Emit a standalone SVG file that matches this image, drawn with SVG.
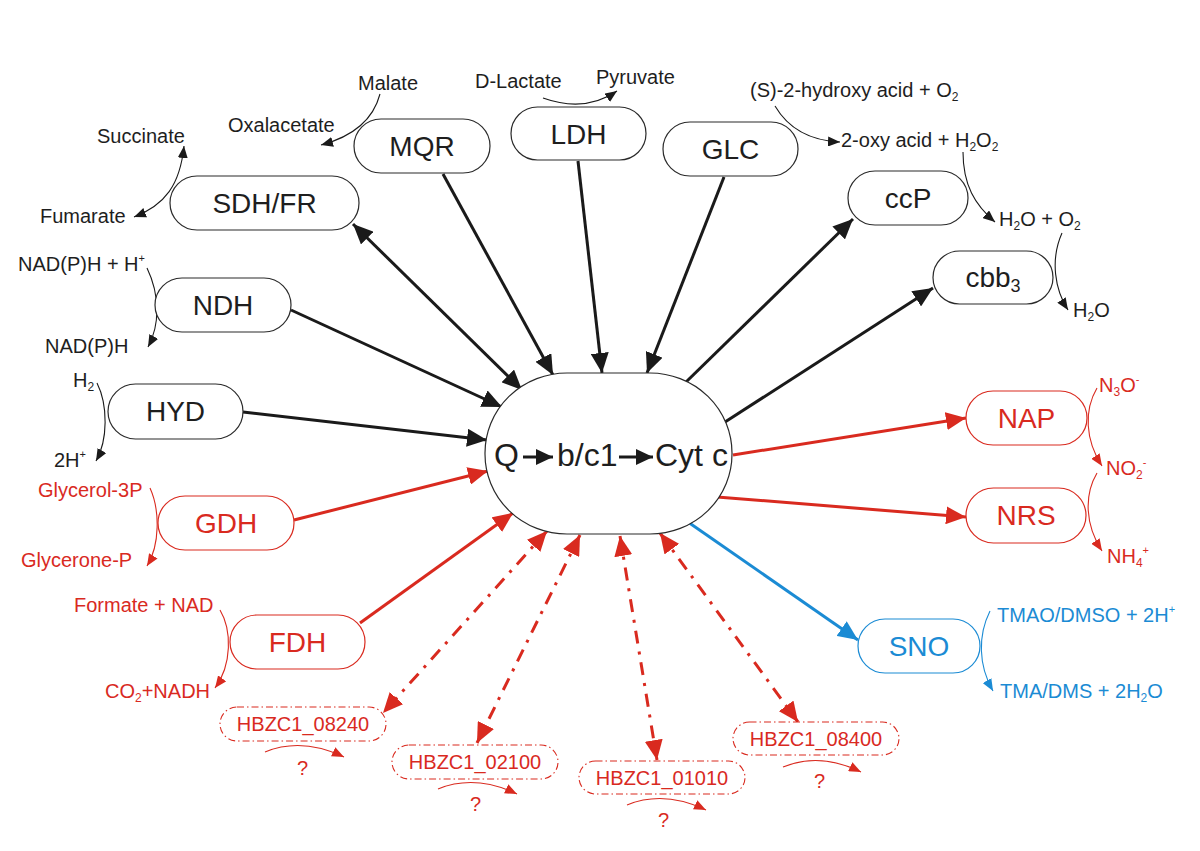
<svg xmlns="http://www.w3.org/2000/svg" width="1200" height="851" viewBox="0 0 1200 851">
<defs>
<style>
text{font-family:"Liberation Sans",Arial,sans-serif;fill:#1e1e1e}
.lbl{font-size:20px}
.nl{font-size:28px;text-anchor:middle}
.hb{font-size:20px;text-anchor:middle;fill:#d92a1f}
.r{fill:#d92a1f}
.b{fill:#1b8bd4}
.box{fill:#fff;stroke:#2a2a2a;stroke-width:1.2}
.rbox{fill:#fff;stroke:#d92a1f;stroke-width:1.2}
.bbox{fill:#fff;stroke:#1b8bd4;stroke-width:1.2}
.dbox{fill:#fff;stroke:#d92a1f;stroke-width:1.1;stroke-dasharray:7 3 1.5 3}
.thk{fill:none;stroke:#1a1a1a;stroke-width:3}
.thr{fill:none;stroke:#d92a1f;stroke-width:3}
.thb{fill:none;stroke:#1b8bd4;stroke-width:3}
.dsh{fill:none;stroke:#d92a1f;stroke-width:3;stroke-dasharray:13 8 3 8}
.tn{fill:none;stroke:#1a1a1a;stroke-width:1.1}
.tnr{fill:none;stroke:#d92a1f;stroke-width:1.1}
.tnb{fill:none;stroke:#1b8bd4;stroke-width:1.1}
</style>
<marker id="ak" markerUnits="userSpaceOnUse" markerWidth="22" markerHeight="18" refX="20" refY="9" orient="auto-start-reverse"><path d="M0,0 L20,9 L0,18 z" fill="#1a1a1a"/></marker>
<marker id="ar" markerUnits="userSpaceOnUse" markerWidth="22" markerHeight="18" refX="20" refY="9" orient="auto-start-reverse"><path d="M0,0 L20,9 L0,18 z" fill="#d92a1f"/></marker>
<marker id="ab" markerUnits="userSpaceOnUse" markerWidth="22" markerHeight="18" refX="20" refY="9" orient="auto-start-reverse"><path d="M0,0 L20,9 L0,18 z" fill="#1b8bd4"/></marker>
<marker id="sk" markerUnits="userSpaceOnUse" markerWidth="13" markerHeight="10" refX="12" refY="5" orient="auto-start-reverse"><path d="M0,0 L12,5 L0,10 z" fill="#1a1a1a"/></marker>
<marker id="sr" markerUnits="userSpaceOnUse" markerWidth="13" markerHeight="10" refX="12" refY="5" orient="auto-start-reverse"><path d="M0,0 L12,5 L0,10 z" fill="#d92a1f"/></marker>
<marker id="sb" markerUnits="userSpaceOnUse" markerWidth="13" markerHeight="10" refX="12" refY="5" orient="auto-start-reverse"><path d="M0,0 L12,5 L0,10 z" fill="#1b8bd4"/></marker>
<marker id="ck" markerUnits="userSpaceOnUse" markerWidth="18" markerHeight="16" refX="17" refY="8" orient="auto"><path d="M0,0 L17,8 L0,16 z" fill="#1a1a1a"/></marker>
</defs>

<g id="connectors">
<path class="thk" d="M443,174 L553,375" marker-end="url(#ak)"/>
<path class="thk" d="M578,161 L602,373" marker-end="url(#ak)"/>
<path class="thk" d="M724,177 L647,373" marker-end="url(#ak)"/>
<path class="thk" d="M353,224 L522,390" marker-start="url(#ak)" marker-end="url(#ak)"/>
<path class="thk" d="M291,310 L502,407" marker-end="url(#ak)"/>
<path class="thk" d="M243,412 L487,440" marker-end="url(#ak)"/>
<path class="thk" d="M685,383 L853,219" marker-end="url(#ak)"/>
<path class="thk" d="M725,422 L933,288" marker-end="url(#ak)"/>
<path class="thr" d="M733,455 L966,418" marker-end="url(#ar)"/>
<path class="thr" d="M717,497 L966,517" marker-end="url(#ar)"/>
<path class="thb" d="M688,522 L858,640" marker-end="url(#ab)"/>
<path class="thr" d="M294,520 L488,471" marker-end="url(#ar)"/>
<path class="thr" d="M360,623 L513,513" marker-end="url(#ar)"/>
<path class="dsh" d="M547,531 L383,713" marker-start="url(#ar)" marker-end="url(#ar)"/>
<path class="dsh" d="M580,535 L477,743" marker-start="url(#ar)" marker-end="url(#ar)"/>
<path class="dsh" d="M620,536 L657,760" marker-start="url(#ar)" marker-end="url(#ar)"/>
<path class="dsh" d="M660,533 L798,722" marker-start="url(#ar)" marker-end="url(#ar)"/>

<path class="tn" d="M380,94 Q370,132 321,145" marker-end="url(#sk)"/>
<path class="tn" d="M184,146 C180,185 165,205 134,217" marker-start="url(#sk)" marker-end="url(#sk)"/>
<path class="tn" d="M543,98 Q585,113 617,91" marker-end="url(#sk)"/>
<path class="tn" d="M775,106 Q795,140 840,142" marker-end="url(#sk)"/>
<path class="tn" d="M963,152 C963,185 975,205 995,222" marker-end="url(#sk)"/>
<path class="tn" d="M1062,233 C1050,260 1055,290 1068,310" marker-end="url(#sk)"/>
<path class="tn" d="M147,268 C160,295 160,325 148,347" marker-end="url(#sk)"/>
<path class="tn" d="M97,383 C108,405 108,440 96,461" marker-end="url(#sk)"/>
<path class="tnr" d="M150,488 C160,510 160,545 147,566" marker-end="url(#sr)"/>
<path class="tnr" d="M220,610 C232,630 232,665 215,688" marker-end="url(#sr)"/>
<path class="tnr" d="M1097,388 C1084,410 1085,440 1102,466" marker-end="url(#sr)"/>
<path class="tnr" d="M1097,473 C1084,495 1085,525 1102,551" marker-end="url(#sr)"/>
<path class="tnb" d="M990,611 C978,635 978,665 993,691" marker-end="url(#sb)"/>
<path class="tnr" d="M265,752 Q302,737 344,757" marker-end="url(#sr)"/>
<path class="tnr" d="M438,789 Q475,774 517,794" marker-end="url(#sr)"/>
<path class="tnr" d="M627,805 Q664,790 706,810" marker-end="url(#sr)"/>
<path class="tnr" d="M783,767 Q820,752 861,772" marker-end="url(#sr)"/>
</g>

<g id="center">
<rect class="box" x="485" y="373" width="247" height="161" rx="82" ry="80"/>
<text x="494" y="466" style="font-size:32px">Q</text>
<path d="M523,457 L553,457" stroke="#1a1a1a" stroke-width="3" marker-end="url(#ck)"/>
<text x="557" y="466" style="font-size:32px">b/c1</text>
<path d="M619,457 L653,457" stroke="#1a1a1a" stroke-width="3" marker-end="url(#ck)"/>
<text x="655" y="466" style="font-size:32px">Cyt c</text>
</g>

<g id="SDHFR"><rect class="box" x="170" y="176" width="189" height="54" rx="27"/><text class="nl" x="264.5" y="213">SDH/FR</text></g>
<g id="MQR"><rect class="box" x="354" y="119" width="136" height="54" rx="27"/><text class="nl" x="422" y="156">MQR</text></g>
<g id="LDH"><rect class="box" x="511" y="107" width="135" height="53" rx="26.5"/><text class="nl" x="578.5" y="143.5">LDH</text></g>
<g id="GLC"><rect class="box" x="663" y="122" width="135" height="54" rx="27"/><text class="nl" x="730.5" y="159">GLC</text></g>
<g id="ccP"><rect class="box" x="848" y="171" width="120" height="54" rx="27"/><text class="nl" x="908" y="208">ccP</text></g>
<g id="cbb3"><rect class="box" x="933" y="251" width="120" height="53" rx="26.5"/><text class="nl" x="993" y="287">cbb<tspan style="font-size:18px" dy="5">3</tspan></text></g>
<g id="NDH"><rect class="box" x="155" y="278" width="136" height="54" rx="27"/><text class="nl" x="223" y="315">NDH</text></g>
<g id="HYD"><rect class="box" x="108" y="384" width="135" height="55" rx="27.5"/><text class="nl" x="175.5" y="421">HYD</text></g>
<g id="GDH"><rect class="rbox" x="158" y="496" width="136" height="54" rx="27"/><text class="nl r" x="226" y="533">GDH</text></g>
<g id="FDH"><rect class="rbox" x="230" y="615" width="135" height="54" rx="27"/><text class="nl r" x="297.5" y="652">FDH</text></g>
<g id="NAP"><rect class="rbox" x="966" y="391" width="121" height="54" rx="27"/><text class="nl r" x="1026.5" y="428">NAP</text></g>
<g id="NRS"><rect class="rbox" x="966" y="488" width="120" height="55" rx="27.5"/><text class="nl r" x="1026" y="525">NRS</text></g>
<g id="SNO"><rect class="bbox" x="858" y="619" width="122" height="54" rx="27"/><text class="nl b" x="919" y="656">SNO</text></g>
<g id="HBZC1_08240"><rect class="dbox" x="220" y="707" width="166" height="34" rx="17"/><text class="hb" x="303" y="731">HBZC1_08240</text></g>
<g id="HBZC1_02100"><rect class="dbox" x="392" y="745" width="166" height="34" rx="17"/><text class="hb" x="475" y="769">HBZC1_02100</text></g>
<g id="HBZC1_01010"><rect class="dbox" x="579" y="761" width="166" height="33" rx="16.5"/><text class="hb" x="662" y="785">HBZC1_01010</text></g>
<g id="HBZC1_08400"><rect class="dbox" x="733" y="722" width="166" height="33" rx="16.5"/><text class="hb" x="816" y="746">HBZC1_08400</text></g>

<g id="labels">
<text class="lbl" x="358" y="90">Malate</text>
<text class="lbl" x="228" y="132">Oxalacetate</text>
<text class="lbl" x="97" y="143">Succinate</text>
<text class="lbl" x="40" y="223">Fumarate</text>
<text class="lbl" x="475" y="88">D-Lactate</text>
<text class="lbl" x="596" y="84">Pyruvate</text>
<text class="lbl" x="750" y="97">(S)-2-hydroxy acid + O<tspan style="font-size:12px" dy="4">2</tspan></text>
<text class="lbl" x="841" y="147">2-oxy acid + H<tspan style="font-size:12px" dy="4">2</tspan><tspan dy="-4">O</tspan><tspan style="font-size:12px" dy="4">2</tspan></text>
<text class="lbl" x="999" y="226">H<tspan style="font-size:12px" dy="4">2</tspan><tspan dy="-4">O + O</tspan><tspan style="font-size:12px" dy="4">2</tspan></text>
<text class="lbl" x="1073" y="317">H<tspan style="font-size:12px" dy="4">2</tspan><tspan dy="-4">O</tspan></text>
<text class="lbl" x="18" y="271">NAD(P)H + H<tspan style="font-size:11px" dy="-9">+</tspan></text>
<text class="lbl" x="45" y="353">NAD(P)H</text>
<text class="lbl" x="73" y="387">H<tspan style="font-size:12px" dy="4">2</tspan></text>
<text class="lbl" x="54" y="467">2H<tspan style="font-size:11px" dy="-9">+</tspan></text>
<text class="lbl r" x="38" y="497">Glycerol-3P</text>
<text class="lbl r" x="21" y="567">Glycerone-P</text>
<text class="lbl r" x="74" y="612">Formate + NAD</text>
<text class="lbl r" x="105" y="698">CO<tspan style="font-size:12px" dy="4">2</tspan><tspan dy="-4">+NADH</tspan></text>
<text class="lbl r" x="1099" y="392">N<tspan style="font-size:12px" dy="4">3</tspan><tspan dy="-4">O</tspan><tspan style="font-size:11px" dy="-9">-</tspan></text>
<text class="lbl r" x="1106" y="475">NO<tspan style="font-size:12px" dy="4">2</tspan><tspan style="font-size:11px" dy="-13">-</tspan></text>
<text class="lbl r" x="1107" y="563">NH<tspan style="font-size:12px" dy="4">4</tspan><tspan style="font-size:11px" dy="-13">+</tspan></text>
<text class="lbl b" x="997" y="622">TMAO/DMSO + 2H<tspan style="font-size:11px" dy="-9">+</tspan></text>
<text class="lbl b" x="1000" y="698">TMA/DMS + 2H<tspan style="font-size:12px" dy="4">2</tspan><tspan dy="-4">O</tspan></text>
<text class="lbl r" x="297" y="775">?</text>
<text class="lbl r" x="470" y="811">?</text>
<text class="lbl r" x="658" y="827">?</text>
<text class="lbl r" x="814" y="788">?</text>
</g>
</svg>
